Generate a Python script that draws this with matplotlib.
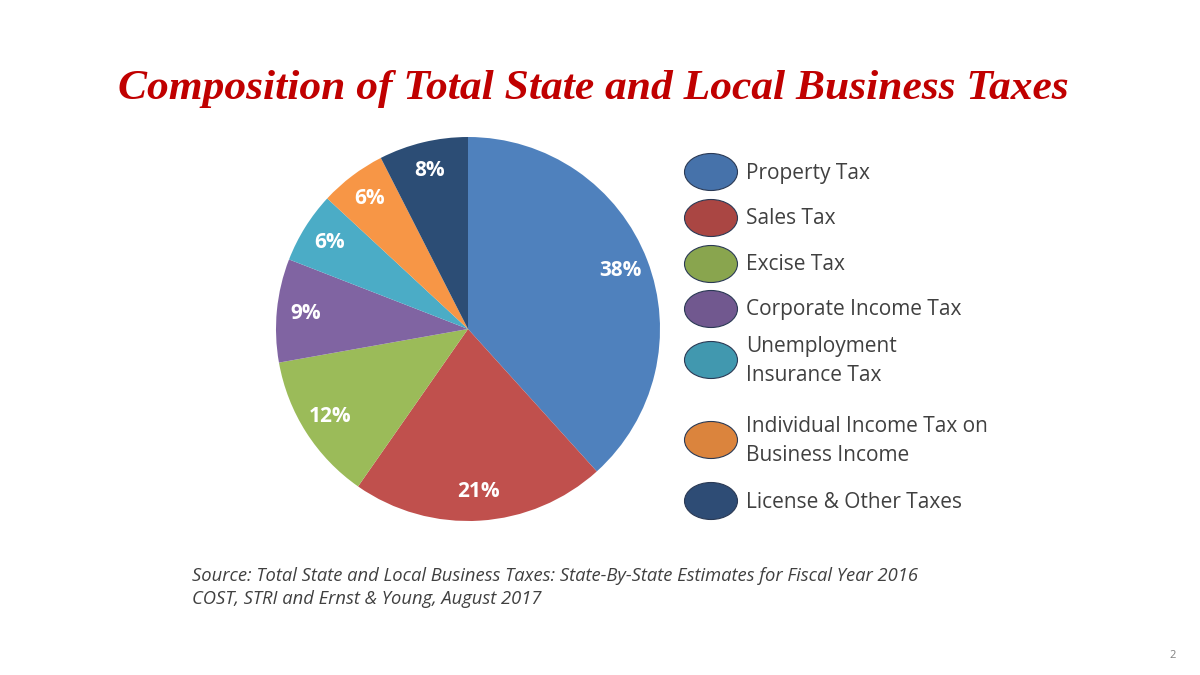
import matplotlib.pyplot as plt
from matplotlib.patches import Ellipse

categories = ['Property Tax', 'Sales Tax', 'Excise Tax', 'Corporate Income Tax',
              'Unemployment\nInsurance Tax', 'Individual Income Tax on\nBusiness Income',
              'License & Other Taxes']
# slice sizes; labels are the rounded values printed on it
shares = [38.3, 21.4, 12.5, 8.7, 6.0, 5.6, 7.5]
share_labels = ['38%', '21%', '12%', '9%', '6%', '6%', '8%']
pie_colors = ['#4F81BD', '#C0504D', '#9BBB59', '#8064A2', '#4BACC6', '#F79646', '#2C4D75']
legend_colors = ['#4672AA', '#AA4643', '#89A54E', '#71588F', '#4198AF', '#DB843D', '#2E4C75']

fig = plt.figure(figsize=(12, 6.75), dpi=100)
fig.patch.set_facecolor('white')

# pie axes: center (468, 328) px, radius 192 px
cx, cy, r = 468, 329, 192
ax = fig.add_axes([(cx - r) / 1200, (675 - cy - r) / 675, 2 * r / 1200, 2 * r / 675])
wedges, texts, autotexts = ax.pie(
    shares, colors=pie_colors, startangle=90, counterclock=False,
    autopct='%1.0f%%', pctdistance=0.85,
    textprops=dict(color='white', fontsize=15, fontweight='bold', family='Open Sans'))
for t, lab in zip(autotexts, share_labels):
    t.set_text(lab)
ax.set_xlim(-1, 1)
ax.set_ylim(-1, 1)
ax.set_aspect('equal')
ax.axis('off')

# overlay in pixel coords for legend and text
ov = fig.add_axes([0, 0, 1, 1])
ov.set_xlim(0, 1200)
ov.set_ylim(675, 0)
ov.axis('off')

ov.text(593, 89, 'Composition of Total State and Local Business Taxes',
        ha='center', va='center', fontsize=31.3, fontweight='bold', fontstyle='italic',
        family='Liberation Serif', color='#C00000')

legend_y = [172, 218, 264, 309, 360, 440, 501]
for y, lab, col in zip(legend_y, categories, legend_colors):
    ov.add_patch(Ellipse((711, y), 53, 37, facecolor=col, edgecolor='#2b3a55', lw=0.8))
    ov.text(746, y + 1, lab, ha='left', va='center', fontsize=15, family='Open Sans',
            color='#404040', linespacing=1.45)

ov.text(192, 576, 'Source: Total State and Local Business Taxes: State-By-State Estimates for Fiscal Year 2016',
        ha='left', va='center', fontsize=13.2, fontstyle='italic', family='Open Sans', color='#404040')
ov.text(192, 599, 'COST, STRI and Ernst & Young, August 2017',
        ha='left', va='center', fontsize=13.2, fontstyle='italic', family='Open Sans', color='#404040')
ov.text(1173, 655, '2', ha='center', va='center', fontsize=8, color='#808080', family='Open Sans')

fig.savefig('out.png', dpi=100)
